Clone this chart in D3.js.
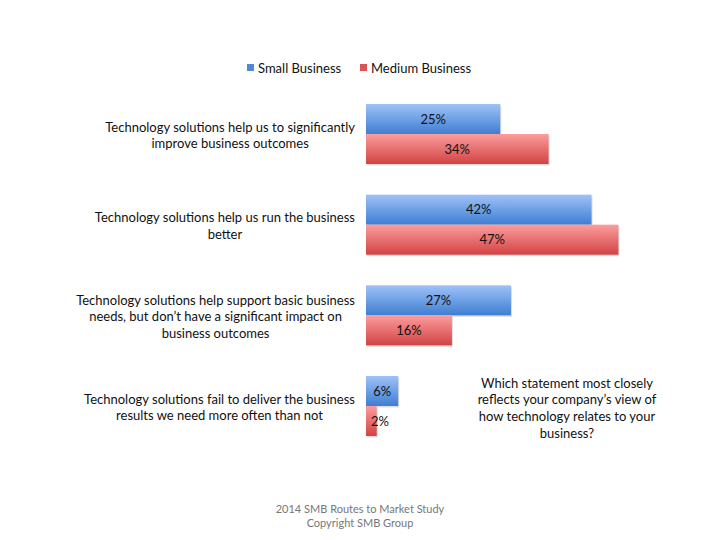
<!DOCTYPE html>
<html>
<head>
<meta charset="utf-8">
<script src="https://cdn.jsdelivr.net/npm/d3@7"></script>
<style>
  body { margin: 0; background: #fff; }
  svg { font-family: Lato, "Open Sans", sans-serif; }
</style>
</head>
<body>
<div class="canvas"></div>
<script>
// data
const categories = [
    ['Technology solutions help us to significantly', 'improve business outcomes'],
    ['Technology solutions help us run the business', 'better'],
    ['Technology solutions help support basic business', 'needs, but don\u2019t have a significant impact on', 'business outcomes'],
    ['Technology solutions fail to deliver the business', 'results we need more often than not']
];
const seriesNames = ['Small Business', 'Medium Business'];
const smallBusiness = [25, 42, 27, 6];
const mediumBusiness = [34, 47, 16, 2];
const questionLines = ['Which statement most closely', 'reflects your company\u2019s view of', 'how technology relates to your', 'business?'];
const footerLines = ['2014 SMB Routes to Market Study', 'Copyright SMB Group'];

const dims = { width: 720, height: 540 };
const plot = { left: 366, top: 104, bottom: 436, right: 634.5 };

const svg = d3.select('.canvas')
    .append('svg')
    .attr('width', dims.width)
    .attr('height', dims.height);

// gradients
const defs = svg.append('defs');
const grads = [
    { id: 'gBlue', top: '#9fc2f7', bottom: '#3e7ed2' },
    { id: 'gRed', top: '#fb9d9d', bottom: '#d24343' }
];
grads.forEach(g => {
    const lg = defs.append('linearGradient')
        .attr('id', g.id)
        .attr('x1', 0).attr('y1', 0).attr('x2', 0).attr('y2', 1);
    lg.append('stop').attr('offset', '0%').attr('stop-color', g.top);
    lg.append('stop').attr('offset', '100%').attr('stop-color', g.bottom);
});
const fills = ['url(#gBlue)', 'url(#gRed)'];
const legendFills = ['#4f8ad9', '#d95454'];

// scales
const x = d3.scaleLinear()
    .domain([0, 50])
    .range([plot.left, plot.right]);

const y0 = d3.scaleBand()
    .domain(d3.range(categories.length))
    .range([plot.top, plot.bottom])
    .paddingInner(0.338)
    .paddingOuter(0);

const y1 = d3.scaleBand()
    .domain([0, 1])
    .range([0, y0.bandwidth()]);

const rows = categories.map((c, i) => ({
    lines: c,
    values: [smallBusiness[i], mediumBusiness[i]]
}));

const graph = svg.append('g');

const groups = graph.selectAll('g.row')
    .data(rows)
    .enter()
    .append('g')
    .attr('class', 'row')
    .attr('transform', (d, i) => `translate(0, ${y0(i)})`);

// shadows
groups.selectAll('rect.shadow')
    .data(d => d.values)
    .enter()
    .append('rect')
    .attr('x', x(0) + 1)
    .attr('y', (d, j) => y1(j) + 1.5)
    .attr('width', d => x(d) - x(0))
    .attr('height', y1.bandwidth())
    .attr('fill', '#dcdcdc');

// bars
groups.selectAll('rect.bar')
    .data(d => d.values)
    .enter()
    .append('rect')
    .attr('class', 'bar')
    .attr('x', x(0))
    .attr('y', (d, j) => y1(j))
    .attr('width', d => x(d) - x(0))
    .attr('height', y1.bandwidth())
    .attr('fill', (d, j) => fills[j]);

// value labels
groups.selectAll('text.val')
    .data(d => d.values)
    .enter()
    .append('text')
    .attr('class', 'val')
    .attr('x', d => Math.max((x(d) + x(0)) / 2, x(0) + 14))
    .attr('y', (d, j) => y1(j) + y1.bandwidth() / 2)
    .attr('dy', '0.35em')
    .attr('text-anchor', 'middle')
    .attr('font-size', 13)
    .attr('fill', '#111')
    .text(d => d + '%');

// category labels, centred on their widest line, right aligned to the axis
const labelRight = 355;
const lineH = 16.7;
groups.each(function(d) {
    const g = d3.select(this);
    const mid = y0.bandwidth() / 2 + 1.5;
    const n = d.lines.length;
    const t = g.append('text')
        .attr('font-size', 13)
        .attr('fill', '#111')
        .attr('text-anchor', 'middle');
    const spans = t.selectAll('tspan')
        .data(d.lines)
        .enter()
        .append('tspan')
        .attr('y', (l, k) => mid + (k - (n - 1) / 2) * lineH)
        .attr('dy', '0.35em')
        .text(l => l);
    let maxW = 0;
    spans.each(function() { maxW = Math.max(maxW, this.getComputedTextLength()); });
    spans.attr('x', labelRight - maxW / 2);
});

// legend
const legend = svg.append('g')
    .attr('transform', 'translate(0, 68)');
const legendX = [247, 360];
seriesNames.forEach((name, i) => {
    legend.append('rect')
        .attr('x', legendX[i])
        .attr('y', -4)
        .attr('width', 7)
        .attr('height', 7)
        .attr('fill', legendFills[i]);
    legend.append('text')
        .attr('x', legendX[i] + 11)
        .attr('y', 0)
        .attr('dy', '0.35em')
        .attr('font-size', 13)
        .attr('fill', '#111')
        .text(name);
});

// question note
svg.append('text')
    .attr('text-anchor', 'middle')
    .attr('font-size', 13)
    .attr('fill', '#111')
    .selectAll('tspan')
    .data(questionLines)
    .enter()
    .append('tspan')
    .attr('x', 567)
    .attr('y', (l, k) => 383 + k * lineH)
    .attr('dy', '0.35em')
    .text(l => l);

// footer
svg.append('text')
    .attr('text-anchor', 'middle')
    .attr('font-size', 11)
    .attr('fill', '#777')
    .selectAll('tspan')
    .data(footerLines)
    .enter()
    .append('tspan')
    .attr('x', 360)
    .attr('y', (l, k) => 509 + k * 14)
    .attr('dy', '0.35em')
    .text(l => l);
</script>
</body>
</html>
